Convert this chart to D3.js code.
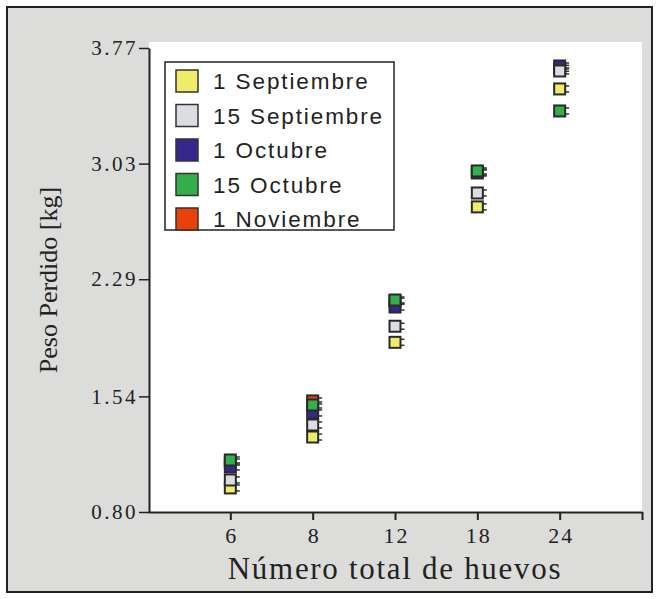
<!DOCTYPE html>
<html><head><meta charset="utf-8">
<script src="https://cdn.jsdelivr.net/npm/d3@7"></script>
<style>body{margin:0;background:#fff}svg{display:block}</style>
</head><body>
<svg id="chart" width="660" height="599"></svg>
<script>
const categories = ["6","8","12","18","24"];
const seriesNames = ["1 Septiembre","15 Septiembre","1 Octubre","15 Octubre","1 Noviembre"];
const seriesColors = ["#f0ec6a","#dcdde3","#35288a","#34b04a","#e8420a"];
const sep1  = [0.954, 1.280, 1.886, 2.753, 3.508];
const sep15 = [1.005, 1.357, 1.989, 2.842, 3.623];
const oct1  = [1.088, 1.434, 2.112, 2.970, 3.655];
const oct15 = [1.133, 1.485, 2.157, 2.983, 3.367];
const nov1  = [1.120, 1.511, 2.150, 2.975, 3.640];
const yTickLabels = ["0.80","1.54","2.29","3.03","3.77"];
const yDomain = [0.80, 3.77];

const seriesValues = [sep1, sep15, oct1, oct15, nov1];
const drawOrder = [4, 2, 0, 1, 3];

const svg = d3.select("#chart");
svg.append("rect").attr("x",7).attr("y",7).attr("width",645).attr("height",585)
  .attr("fill","#dcdcda").attr("stroke","#222").attr("stroke-width",2);

const x = d3.scaleLinear().domain([0, categories.length + 1]).range([148, 642]);
const y = d3.scaleLinear().domain(yDomain).range([512, 48]);

svg.append("rect").attr("x",149).attr("y",42).attr("width",493).attr("height",470).attr("fill","#fff");

const xAxis = d3.axisBottom(x)
  .tickValues(d3.range(1, categories.length + 2))
  .tickFormat(d => d <= categories.length ? categories[d-1] : "")
  .tickSizeInner(8).tickSizeOuter(0).tickPadding(7);
const gx = svg.append("g").attr("transform","translate(0,512)").call(xAxis);
gx.select(".domain").attr("stroke","#222").attr("stroke-width",2);
gx.selectAll(".tick line").attr("stroke","#222").attr("stroke-width",2);
gx.selectAll(".tick text").attr("font-family","'Liberation Serif', serif").attr("font-size",22)
  .attr("letter-spacing",2).attr("dx",1).attr("fill","#222");

const yAxis = d3.axisLeft(y)
  .tickValues(yTickLabels.map(Number))
  .tickFormat((d,i) => yTickLabels[i])
  .tickSizeInner(10).tickSizeOuter(0).tickPadding(1);
const gy = svg.append("g").attr("transform","translate(149,0)").call(yAxis);
gy.select(".domain").attr("stroke","#222").attr("stroke-width",2);
gy.selectAll(".tick line").attr("stroke","#222").attr("stroke-width",1.5);
gy.selectAll(".tick text").attr("font-family","'Liberation Serif', serif").attr("font-size",21)
  .attr("letter-spacing",2.5).attr("fill","#222");

svg.append("text").attr("x",395).attr("y",579).attr("text-anchor","middle")
  .attr("font-family","'Liberation Serif', serif").attr("font-size",31).attr("fill","#222")
  .attr("letter-spacing",1.7)
  .text("Número total de huevos");
svg.append("text").attr("transform","translate(57,280) rotate(-90)").attr("text-anchor","middle")
  .attr("font-family","'Liberation Serif', serif").attr("font-size",26).attr("fill","#222")
  .text("Peso Perdido [kg]");

const ms = 11;
drawOrder.forEach(si => {
  const g = svg.append("g");
  seriesValues[si].forEach((v, ci) => {
    if (v == null) return;
    const cx = x(ci + 1), cy = y(v);
    g.append("line").attr("x1",cx+ms/2).attr("x2",cx+ms/2+4).attr("y1",cy-3).attr("y2",cy-3)
      .attr("stroke","#333").attr("stroke-width",1.5);
    g.append("line").attr("x1",cx+ms/2).attr("x2",cx+ms/2+4).attr("y1",cy+3).attr("y2",cy+3)
      .attr("stroke","#333").attr("stroke-width",1.5);
    g.append("rect").attr("x",cx-ms/2).attr("y",cy-ms/2).attr("width",ms).attr("height",ms)
      .attr("fill",seriesColors[si]).attr("stroke","#2a2a2a").attr("stroke-width",2);
  });
});

const lg = svg.append("g");
lg.append("rect").attr("x",165).attr("y",62).attr("width",229).attr("height",168)
  .attr("fill","#fff").attr("stroke","#222").attr("stroke-width",1.5);
const rowY = d3.scalePoint().domain(d3.range(seriesNames.length)).range([81, 219]);
seriesNames.forEach((name, i) => {
  lg.append("rect").attr("x",176).attr("y",rowY(i)-11).attr("width",22).attr("height",22)
    .attr("fill",seriesColors[i]).attr("stroke","#333").attr("stroke-width",1.5);
  lg.append("text").attr("x",213).attr("y",rowY(i)+8)
    .attr("font-family","'Liberation Sans', Arial, sans-serif").attr("font-size",22.5)
    .attr("letter-spacing",1.9).attr("fill","#222")
    .text(name);
});
</script>
</body></html>
